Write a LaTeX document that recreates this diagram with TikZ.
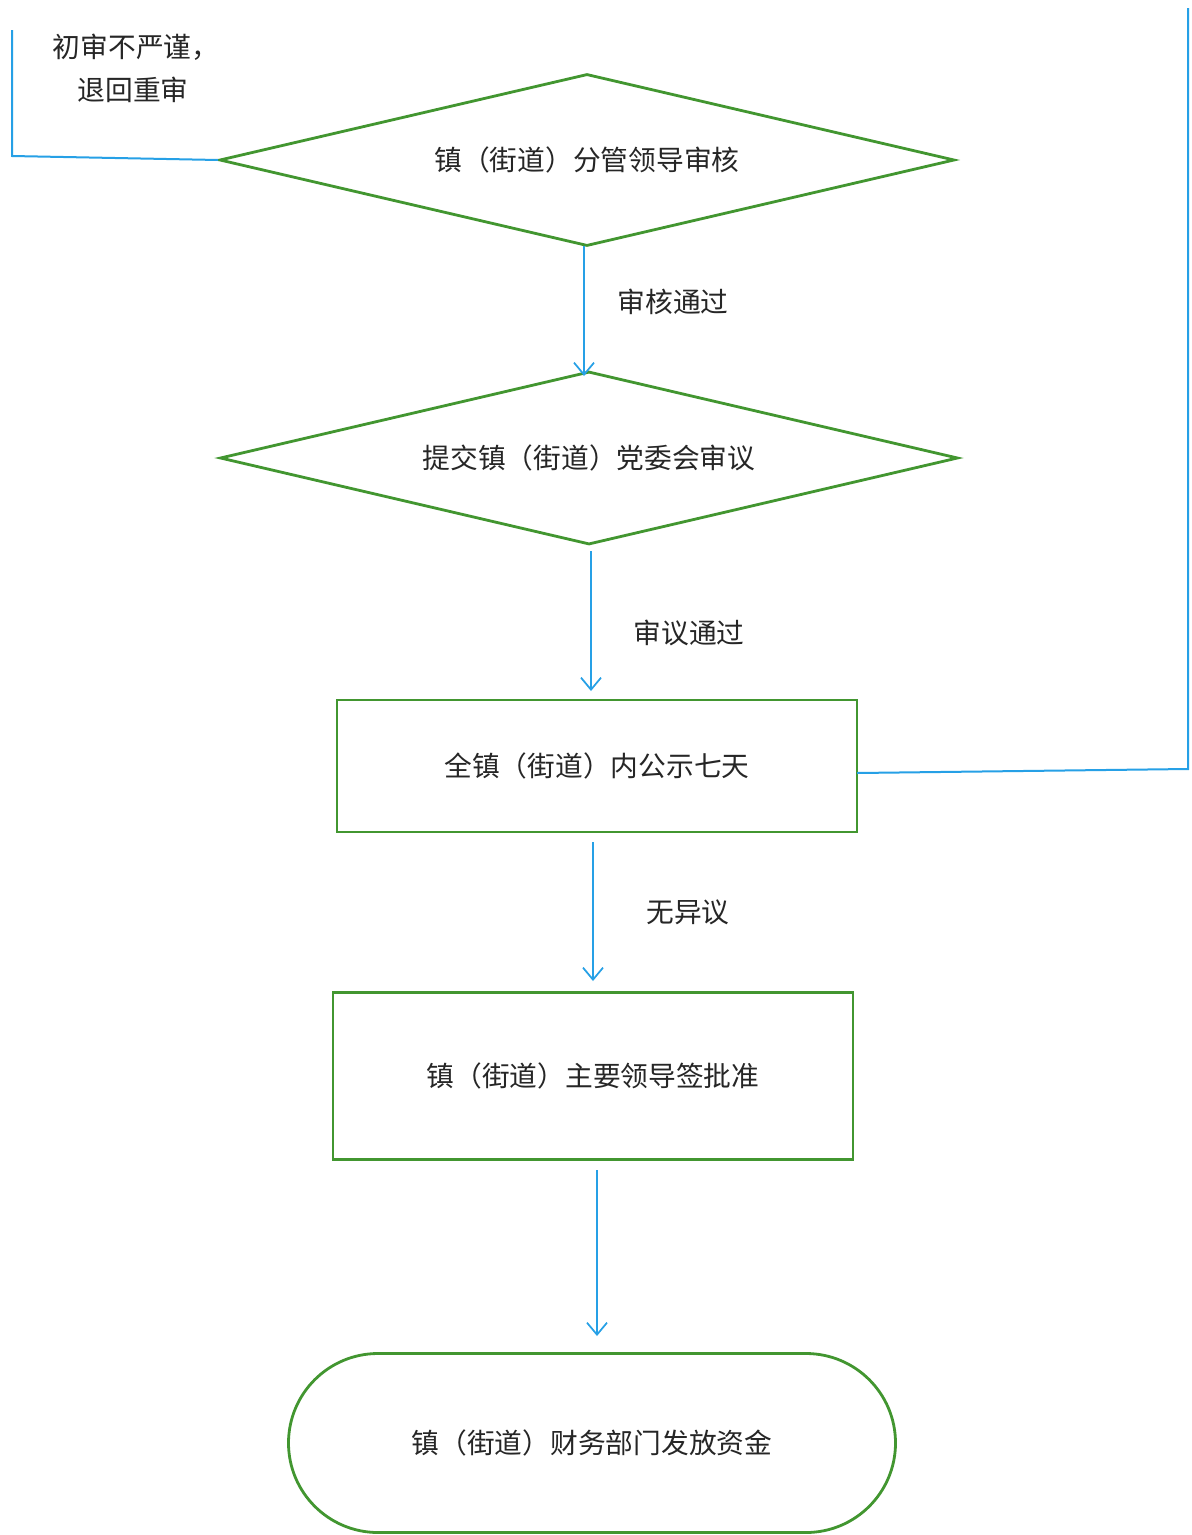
\documentclass[tikz,border=0pt]{standalone}
\usepackage{fontspec}
\setmainfont{Noto Sans CJK SC}
\usetikzlibrary{shapes.geometric,shapes.misc,arrows.meta}
\definecolor{gline}{RGB}{66,150,48}
\definecolor{bline}{RGB}{38,160,230}
\tikzset{
  shapebase/.style={draw=gline,line width=2.8pt*0.75,inner sep=0pt,text=black!85,font=\fontsize{20.8pt}{26pt}\selectfont},
  decide/.style={shapebase,diamond,aspect=4.27},
  procbox/.style={shapebase,rectangle},
  termbox/.style={shapebase,rounded rectangle},
  flow/.style={draw=bline,line width=2pt*0.75,-{Straight Barb[length=9pt,width=15pt,line width=1.3pt]}},
  loopline/.style={draw=bline,line width=2pt*0.75},
  lbl/.style={font=\fontsize{20.8pt}{26pt}\selectfont,inner sep=0pt,text=black!85}
}
\begin{document}
\begin{tikzpicture}[x=0.75pt,y=-0.75pt]
\useasboundingbox (0,0) rectangle (1192,1535);
\fill[white] (0,0) rectangle (1192,1535);
\node[decide,minimum width=735*0.75pt,minimum height=172*0.75pt] (d1) at (587,160) {镇（街道）分管领导审核};
\node[decide,minimum width=738*0.75pt,minimum height=173*0.75pt] (d2) at (589,458) {提交镇（街道）党委会审议};
\node[procbox,minimum width=520*0.75pt,minimum height=132*0.75pt] (b1) at (597,766) {全镇（街道）内公示七天};
\node[procbox,minimum width=520*0.75pt,minimum height=167*0.75pt] (b2) at (593,1076) {镇（街道）主要领导签批准};
\node[termbox,minimum width=607*0.75pt,minimum height=179*0.75pt] (t1) at (592,1443) {镇（街道）财务部门发放资金};

\coordinate (a1s) at (584,246);
\coordinate (a1e) at (584,376);
\coordinate (a2s) at (591,551);
\coordinate (a2e) at (591,691);
\coordinate (a3s) at (593,842);
\coordinate (a3e) at (593,981);
\coordinate (a4s) at (597,1170);
\coordinate (a4e) at (597,1336);
\draw[flow] (a1s) -- (a1e);
\draw[flow] (a2s) -- (a2e);
\draw[flow] (a3s) -- (a3e);
\draw[flow] (a4s) -- (a4e);

\node[lbl] (l1) at (673,302) {审核通过};
\node[lbl] (l2) at (689,633) {审议通过};
\node[lbl] (l3) at (688,912) {无异议};

\coordinate (lt) at (12,30);
\coordinate (lc) at (12,156);
\draw[loopline] (lt) -- (lc) -- (d1.west);
\node[lbl] (n1) at (136,47) {初审不严谨，};
\node[lbl] (n2) at (133,90) {退回重审};

\coordinate (rs) at (857,773);
\coordinate (rc) at (1188,769);
\coordinate (rt) at (1188,8);
\draw[loopline] (rs) -- (rc) -- (rt);
\end{tikzpicture}
\end{document}
